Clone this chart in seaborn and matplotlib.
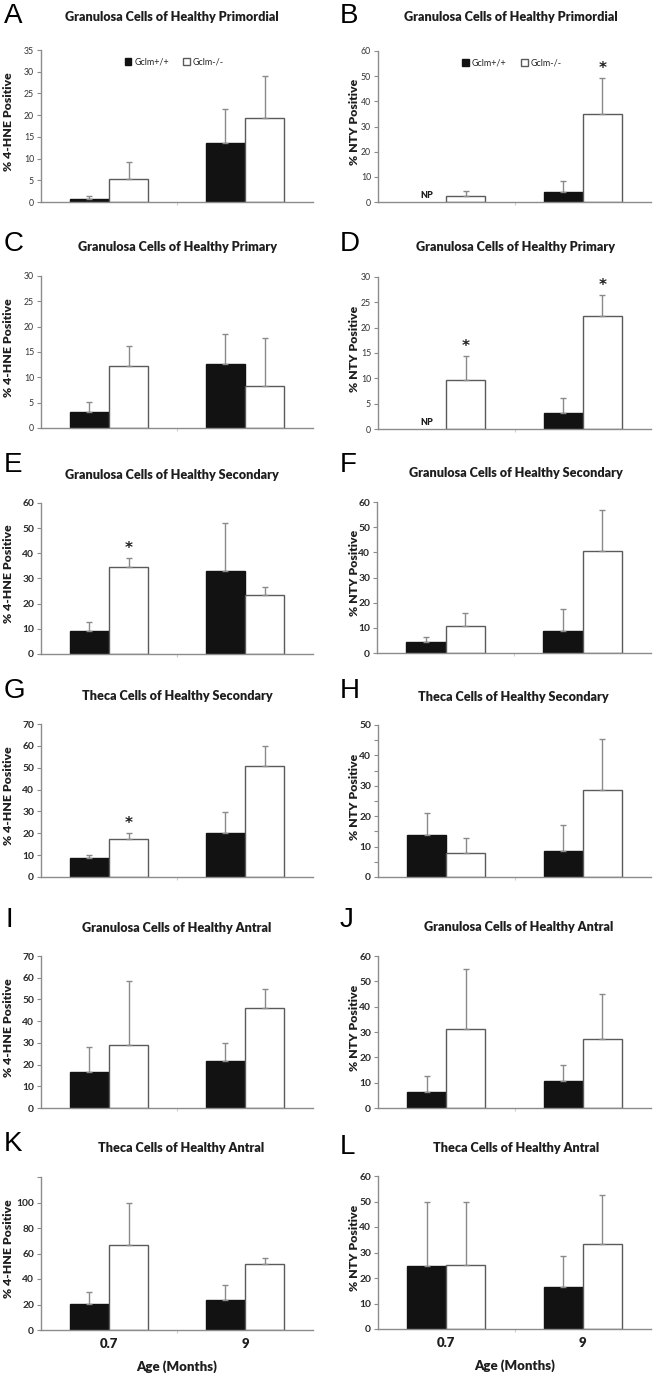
import numpy as np
import pandas as pd
import matplotlib
matplotlib.use("Agg")
import matplotlib.pyplot as plt
import matplotlib.patches as mpatches
import seaborn as sns

# ---------------- data ----------------
ages = ["0.7", "9"]
genotypes = ["Gclm+/+", "Gclm-/-"]
NP = np.nan

# A: 4-HNE, granulosa, primordial
a_wt = [0.6, 13.5];   a_wt_err = [0.7, 7.9]
a_ko = [5.3, 19.4];   a_ko_err = [3.9, 9.6]
# B: NTY, granulosa, primordial
b_wt = [NP, 4.0];     b_wt_err = [NP, 4.3]
b_ko = [2.2, 34.9];   b_ko_err = [2.2, 14.2]
# C: 4-HNE, granulosa, primary
c_wt = [3.2, 12.7];   c_wt_err = [1.9, 5.8]
c_ko = [12.3, 8.3];   c_ko_err = [3.9, 9.4]
# D: NTY, granulosa, primary
d_wt = [NP, 3.2];     d_wt_err = [NP, 3.0]
d_ko = [9.7, 22.4];   d_ko_err = [4.7, 4.0]
# E: 4-HNE, granulosa, secondary
e_wt = [9.2, 32.8];   e_wt_err = [3.5, 19.4]
e_ko = [34.7, 23.4];  e_ko_err = [3.6, 3.1]
# F: NTY, granulosa, secondary
f_wt = [4.2, 8.6];    f_wt_err = [2.0, 8.7]
f_ko = [10.7, 40.4];  f_ko_err = [5.1, 16.6]
# G: 4-HNE, theca, secondary
g_wt = [8.7, 20.0];   g_wt_err = [1.2, 9.7]
g_ko = [17.2, 50.6];  g_ko_err = [3.1, 9.2]
# H: NTY, theca, secondary
h_wt = [13.8, 8.6];   h_wt_err = [7.1, 8.6]
h_ko = [7.9, 28.6];   h_ko_err = [5.0, 16.8]
# I: 4-HNE, granulosa, antral
i_wt = [16.6, 21.7];  i_wt_err = [11.7, 8.3]
i_ko = [29.2, 46.0];  i_ko_err = [29.3, 8.8]
# J: NTY, granulosa, antral
j_wt = [6.3, 10.5];   j_wt_err = [6.4, 6.4]
j_ko = [31.3, 27.1];  j_ko_err = [23.6, 17.9]
# K: 4-HNE, theca, antral
k_wt = [20.2, 23.6];  k_wt_err = [9.4, 12.0]
k_ko = [66.8, 51.8];  k_ko_err = [33.2, 5.0]
# L: NTY, theca, antral
l_wt = [24.8, 16.6];  l_wt_err = [25.1, 11.9]
l_ko = [25.0, 33.2];  l_ko_err = [24.9, 19.3]

letters = list("ABCDEFGHIJKL")
titles = ["Granulosa Cells of Healthy Primordial", "Granulosa Cells of Healthy Primordial",
          "Granulosa Cells of Healthy Primary", "Granulosa Cells of Healthy Primary",
          "Granulosa Cells of Healthy Secondary", "Granulosa Cells of Healthy Secondary",
          "Theca Cells of Healthy Secondary", "Theca Cells of Healthy Secondary",
          "Granulosa Cells of Healthy Antral", "Granulosa Cells of Healthy Antral",
          "Theca Cells of Healthy Antral", "Theca Cells of Healthy Antral"]
ylabels = ["% 4-HNE Positive", "% NTY Positive"] * 6
ymax = [35, 60, 30, 30, 60, 60, 70, 50, 70, 60, 120, 60]
ystep = [5, 10, 5, 5, 10, 10, 10, 10, 10, 10, 20, 10]
ylabel_max = [35, 60, 30, 30, 60, 60, 70, 50, 70, 60, 100, 60]
# significance stars: (panel, age index)
stars = [("B", 1), ("D", 0), ("D", 1), ("E", 0), ("G", 0)]
np_marks = [("B", 0), ("D", 0)]

means_wt = [a_wt, b_wt, c_wt, d_wt, e_wt, f_wt, g_wt, h_wt, i_wt, j_wt, k_wt, l_wt]
errs_wt = [a_wt_err, b_wt_err, c_wt_err, d_wt_err, e_wt_err, f_wt_err, g_wt_err, h_wt_err,
           i_wt_err, j_wt_err, k_wt_err, l_wt_err]
means_ko = [a_ko, b_ko, c_ko, d_ko, e_ko, f_ko, g_ko, h_ko, i_ko, j_ko, k_ko, l_ko]
errs_ko = [a_ko_err, b_ko_err, c_ko_err, d_ko_err, e_ko_err, f_ko_err, g_ko_err, h_ko_err,
           i_ko_err, j_ko_err, k_ko_err, l_ko_err]

# ---------------- layout (pixels) ----------------
W, H = 656, 1377
# left, top, right, zero-line
boxes = [(41, 50, 313, 202), (378, 51, 651, 202),
         (41, 276, 313, 428), (378, 277, 651, 429),
         (41, 503, 313, 654), (377, 502, 651, 653),
         (41, 724, 313, 877), (378, 725, 651, 877),
         (41, 956, 313, 1108), (378, 956, 651, 1108),
         (41, 1177, 313, 1330), (378, 1176, 651, 1329)]
title_pos = [(172, 17), (511, 17), (177, 247), (515, 247), (172, 475), (516, 473),
             (177, 696), (513, 697), (177, 928), (519, 927), (181, 1148), (516, 1148)]
letter_pos = [(4, 16), (340, 16), (4, 244), (340, 244), (4, 465), (340, 465),
              (4, 691), (340, 691), (6, 920), (340, 920), (4, 1144), (340, 1147)]

sns.set_style("ticks")
plt.rcParams["font.family"] = ["Lato", "DejaVu Sans"]

fig = plt.figure(figsize=(W / 100, H / 100), dpi=100)
fig.patch.set_facecolor("white")

BLACK = "#121212"
EDGE = "#5a5a5a"
ERR = "#8a8a8a"
SPINE = "#8c8c8c"
TXT = "#1e1e1e"

for p in range(12):
    l, t, r, z = boxes[p]
    ax = fig.add_axes([l / W, 1 - z / H, (r - l) / W, (z - t) / H])
    wt_plot = np.nan_to_num(np.array(means_wt[p], dtype=float))
    ko_plot = np.nan_to_num(np.array(means_ko[p], dtype=float))
    df = pd.DataFrame({
        "age": ages * 2,
        "genotype": [genotypes[0]] * 2 + [genotypes[1]] * 2,
        "value": list(wt_plot) + list(ko_plot),
    })
    sns.barplot(data=df, x="age", y="value", hue="genotype", order=ages,
                hue_order=genotypes, palette=[BLACK, "white"], errorbar=None,
                width=0.574, gap=0, saturation=1, legend=False, ax=ax,
                edgecolor=EDGE, linewidth=1.0)
    bar_conts = list(ax.containers)
    for c_i, cont in enumerate(bar_conts):
        means = means_wt[p] if c_i == 0 else means_ko[p]
        errs = errs_wt[p] if c_i == 0 else errs_ko[p]
        for b_i, bar in enumerate(cont):
            if c_i == 0:
                bar.set_edgecolor(BLACK)
            if np.isnan(means[b_i]):
                bar.set_visible(False)
                continue
            xc = bar.get_x() + bar.get_width() / 2
            ax.errorbar([xc], [means[b_i]], yerr=[[0], [errs[b_i]]], fmt="none",
                        ecolor=ERR, elinewidth=1.0, capsize=2, capthick=1.0, zorder=1)
    for (pl, ai) in stars:
        if pl == letters[p]:
            bar = bar_conts[1][ai]
            xc = bar.get_x() + bar.get_width() / 2
            top = means_ko[p][ai] + errs_ko[p][ai]
            ax.annotate("*", xy=(xc, top), xytext=(0, 1.5), textcoords="offset points",
                        ha="center", va="bottom", fontsize=11, fontweight="bold",
                        color=TXT, family=["DejaVu Sans"])
    for (pl, ai) in np_marks:
        if pl == letters[p]:
            bar = bar_conts[0][ai]
            xc = bar.get_x() + bar.get_width() / 2
            ax.annotate("NP", xy=(xc, 0), xytext=(0, 1.5), textcoords="offset points",
                        ha="center", va="bottom", fontsize=6.5, fontweight="heavy",
                        color=TXT)
    ax.set_xlim(-0.5, 1.5)
    ax.set_ylim(0, ymax[p])
    ticks = np.arange(0, ymax[p] + 0.01, ystep[p])
    ax.set_yticks(ticks)
    labs = [f"{int(v)}" if v <= ylabel_max[p] else "" for v in ticks]
    small = p < 4
    ax.set_yticklabels(labs, fontsize=6.3 if small else 7.4,
                       fontweight="normal" if small else "bold",
                       color="#333333" if small else "#2a2a2a")
    if letters[p] == "H":
        ax.set_yticks(np.arange(5, ymax[p], 10), minor=True)
        ax.tick_params(axis="y", which="minor", length=3, color=SPINE, width=0.8)
    ax.tick_params(axis="y", which="major", length=3, color=SPINE, width=0.8, pad=2)
    for s in ["top", "right"]:
        ax.spines[s].set_visible(False)
    for s in ["left", "bottom"]:
        ax.spines[s].set_color(SPINE)
        ax.spines[s].set_linewidth(1.0)
    ax.set_xticks([0.5], minor=True)
    ax.tick_params(axis="x", which="minor", length=2, color="#cccccc", width=0.8)
    if p >= 10:
        ax.set_xticks([0, 1])
        ax.set_xticklabels(ages, fontsize=9.5, fontweight="heavy", color=TXT)
        ax.tick_params(axis="x", which="major", length=0, pad=6)
        ax.set_xlabel("Age (Months)", fontsize=9.5, fontweight="heavy", color=TXT,
                      labelpad=7)
    else:
        ax.set_xticks([])
        ax.set_xlabel("")
    ax.set_ylabel(ylabels[p], fontsize=8.8, fontweight="heavy", color=TXT)
    xlab = (14 - l) / (r - l) if p % 2 == 0 else (360 - l) / (r - l)
    ax.yaxis.set_label_coords(xlab, 0.53)
    if p < 2:
        handles = [mpatches.Patch(facecolor=BLACK, edgecolor=BLACK, label=genotypes[0]),
                   mpatches.Patch(facecolor="white", edgecolor=EDGE, label=genotypes[1])]
        ax.legend(handles=handles, loc="center", bbox_to_anchor=(0.49, 0.92), ncol=2,
                  frameon=False, fontsize=6.5, handlelength=0.75, handleheight=0.75,
                  handletextpad=0.3, columnspacing=1.6)
    fig.text(title_pos[p][0] / W, 1 - title_pos[p][1] / H, titles[p], ha="center",
             va="center", fontsize=9.1, fontweight="heavy", color=TXT)
    fig.text(letter_pos[p][0] / W, 1 - letter_pos[p][1] / H, letters[p], ha="left",
             va="center", fontsize=20, color="black", family=["Liberation Sans"])

fig.savefig("out.png", dpi=100, facecolor="white")
